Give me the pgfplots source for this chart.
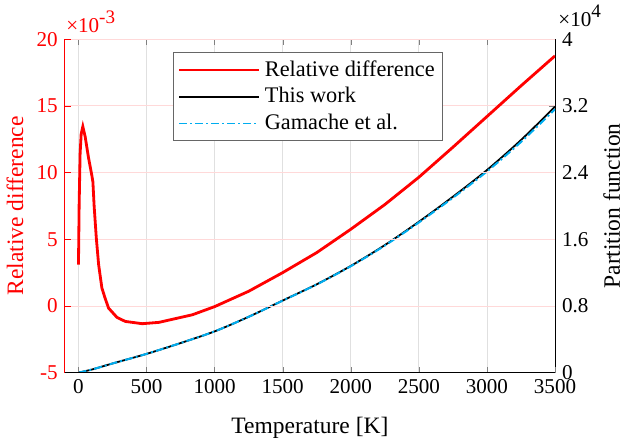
\documentclass[border=0pt]{standalone}
\usepackage{fontspec}
\setmainfont{Liberation Serif}
\usepackage{pgfplots}
\usepackage{pgfplotstable}
\pgfplotsset{compat=1.18}

% relative difference (dimensionless)
\pgfplotstableread{
T     r
0     0.0031
5     0.0076
12    0.0114
20    0.0129
32    0.01345
49    0.0127
74    0.0111
98    0.0098
106   0.0093
115   0.0075
131   0.0051
148   0.0031
172   0.00135
195   0.0006
221   -0.00016
283   -0.00086
344   -0.00116
468   -0.00133
591   -0.00123
837   -0.00066
1000  -0.00005
1250  0.0011
1500  0.0025
1750  0.0040
2000  0.00575
2250  0.0076
2500  0.00965
2750  0.0119
3000  0.0142
3250  0.0165
3500  0.01875
}\reldiff

% partition function: this work / Gamache et al.
\pgfplotstableread{
T     Q      G
0     0      0
100   380    380
250   1100   1100
500   2250   2250
750   3550   3551
1000  4950   4950
1250  6700   6697
1500  8650   8640
1750  10600  10580
2000  12800  12763
2250  15300  15242
2500  18100  18012
2750  21100  20975
3000  24300  24130
3250  27900  27670
3500  31900  31600
}\partfun

\pgfplotsset{
  common/.style={
    scale only axis,
    width=244pt, height=166pt,
    xmin=-100, xmax=3500,
    xtick={0,500,...,3500},
    tick align=inside,
    major tick length=3pt,
    axis line style={-},
    tick label style={font=\fontsize{10.5}{12}\selectfont},
    label style={font=\fontsize{11.7}{13}\selectfont},
    /pgf/number format/assume math mode=true,
    /pgf/number format/1000 sep={},
    ytick scale label code/.code={×10\raisebox{4.5pt}{\fontsize{9.5}{10}\selectfont##1}},
  },
}

\begin{document}
\begin{tikzpicture}
% right axis: partition function
\begin{axis}[
  common,
  axis y line*=right,
  axis x line*=top,
  xticklabels={},
  xmajorgrids,
  major grid style={black!12, line width=0.4pt},
  ymin=0, ymax=40000,
  ytick={0,8000,16000,24000,32000,40000},
  scaled y ticks=base 10:-4,
  yticklabel style={/pgf/number format/fixed,/pgf/number format/precision=1},
  every y tick scale label/.style={at={(rel axis cs:1,1)},anchor=south west,inner sep=0pt,xshift=1.5pt,yshift=6pt,font=\fontsize{10.5}{12}\selectfont},
  ylabel={Partition function},
  ylabel shift=1.5pt,
  ylabel style={inner sep=2.4pt},
]
\addplot[black, line width=0.9pt, smooth] table[x=T, y=Q] {\partfun};
\addplot[cyan, line width=1pt, dash pattern=on 4pt off 1.5pt on 1pt off 1.5pt, smooth] table[x=T, y=G] {\partfun};
\end{axis}
% left axis: relative difference
\begin{axis}[
  common,
  name=L,
  axis y line*=left,
  axis x line*=bottom,
  ymajorgrids,
  major grid style={red!15, line width=0.4pt},
  ymin=-0.005, ymax=0.02,
  ytick={-0.005,0,0.005,0.01,0.015,0.02},
  scaled y ticks=base 10:3,
  y axis line style={red},
  ytick style={red},
  yticklabel style={red},
  every y tick scale label/.style={at={(rel axis cs:0,1)},anchor=south west,inner sep=0pt,xshift=0.5pt,yshift=3pt,red,font=\fontsize{10.5}{12}\selectfont},
  xlabel={Temperature [K]},
  xlabel shift=4.5pt,
  ylabel={Relative difference},
  ylabel shift=-0.3pt,
  ylabel style={red},
  legend style={at={(0.221,0.961)}, anchor=north west, draw=black!60, line width=0.5pt,
    font=\fontsize{11.1}{12}\selectfont, cells={anchor=west}, row sep=0pt, inner sep=2pt},
  legend image code/.code={\draw[#1] plot coordinates {(0pt,0pt) (40pt,0pt)};},
]
\addplot[red, line width=1.4pt] table[x=T, y=r] {\reldiff};
\addlegendentry{Relative difference}
\addlegendimage{black, line width=1pt}
\addlegendentry{This work}
\addlegendimage{cyan, line width=0.7pt, dash pattern=on 4pt off 1.5pt on 1pt off 1.5pt}
\addlegendentry{Gamache et al.}
\end{axis}
% page margins as in the reference
\path (L.south west) ++(0,-34pt) -- ++(0.1pt,0);
\path (L.north west) ++(0,19.5pt) -- ++(0.1pt,0);
\end{tikzpicture}
\end{document}
